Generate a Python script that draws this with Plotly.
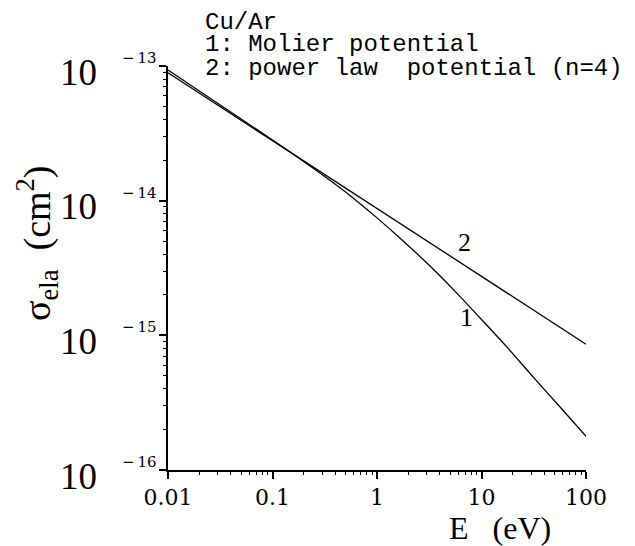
import plotly.graph_objects as go

# Energy (eV) and elastic cross sections (cm^2)
energy_molier = [0.01, 0.0316, 0.1, 0.158, 0.316, 0.562, 1.0, 1.78, 3.16, 5.62, 10.0, 17.8, 31.6, 56.2, 100.0]
sigma_molier = [9.33e-14, 5.13e-14, 2.82e-14, 2.21e-14, 1.51e-14, 1.08e-14, 7.45e-15, 5.02e-15,
                3.31e-15, 2.11e-15, 1.31e-15, 8.07e-16, 4.85e-16, 2.95e-16, 1.78e-16]
energy_power = [0.01, 0.1, 1.0, 10.0, 100.0]
sigma_power = [8.91e-14, 2.79e-14, 8.75e-15, 2.74e-15, 8.59e-16]

x_ticks = [0.01, 0.1, 1, 10, 100]
x_ticktext = ["0.01", "0.1", "1", "10", "100"]
y_exponents = [-13, -14, -15, -16]
minor_digits = [2, 3, 4, 5, 6, 7, 8, 9]

header_lines = ["Cu/Ar", "1: Molier potential", "2: power law\u00a0 potential (n=4)"]
curve_labels = ["1", "2"]

SERIF = "DejaVu Serif"
LSERIF = "Liberation Serif"
MONO = "Liberation Mono"

x_minor = [d * v for v in x_ticks[:-1] for d in minor_digits]
y_minor = [d * 10.0 ** e for e in y_exponents[1:] for d in minor_digits]

fig = go.Figure()
fig.add_trace(go.Scatter(x=energy_molier, y=sigma_molier, mode="lines",
                         line=dict(color="black", width=1.3, shape="spline"), showlegend=False))
fig.add_trace(go.Scatter(x=energy_power, y=sigma_power, mode="lines",
                         line=dict(color="black", width=1.3), showlegend=False))
# invisible copy on the overlaid axes so that their minor ticks get drawn
fig.add_trace(go.Scatter(x=energy_power, y=sigma_power, mode="lines", xaxis="x2", yaxis="y2",
                         line=dict(color="rgba(0,0,0,0)", width=0), opacity=0,
                         hoverinfo="skip", showlegend=False))

# the page body has an 8px margin, so the figure starts at (8, 8)
OFF = 8
W, H = 635 - OFF, 546 - OFF
L, R, T, B = 168, 586, 66, 470  # plot area in window pixels
pw, ph = R - L, B - T

def px(xp):
    return (xp - L) / pw

def py(yp):
    return (B - yp) / ph

annotations = []
# y tick labels: "10" with superscript exponent
for e in y_exponents:
    annotations.append(dict(x=px(99), y=e, xref="paper", yref="y", text="10",
                            showarrow=False, xanchor="right", yanchor="middle", yshift=-6,
                            font=dict(family=LSERIF, size=37, color="black")))
    annotations.append(dict(x=px(159), y=e, xref="paper", yref="y", text="\u2212\u2009" + str(-e),
                            showarrow=False, xanchor="right", yanchor="middle", yshift=8,
                            font=dict(family=SERIF, size=15, color="black")))

# header text
header_y = [23, 45, 68]
for txt, yy in zip(header_lines, header_y):
    annotations.append(dict(x=px(203), y=py(yy), xref="paper", yref="paper", text=txt,
                            showarrow=False, xanchor="left", yanchor="middle",
                            font=dict(family=MONO, size=24, color="black")))

# curve labels
annotations.append(dict(x=0.852, y=-14.87, xref="x", yref="y", text=curve_labels[0], showarrow=False,
                        font=dict(family=LSERIF, size=26, color="black")))
annotations.append(dict(x=0.842, y=-14.31, xref="x", yref="y", text=curve_labels[1], showarrow=False,
                        font=dict(family=LSERIF, size=26, color="black")))

# axis titles
annotations.append(dict(x=px(500), y=py(528), xref="paper", yref="paper", text="E\u2002 (eV)",
                        showarrow=False, xanchor="center", yanchor="middle",
                        font=dict(family=LSERIF, size=32, color="black")))
annotations.append(dict(x=px(37), y=py(243), xref="paper", yref="paper",
                        text="\u03c3<sub>ela</sub>\u00a0\u00a0(cm<sup>2</sup>)", textangle=-90,
                        showarrow=False, xanchor="center", yanchor="middle",
                        font=dict(family=LSERIF, size=38, color="black")))

axis_common = dict(type="log", showgrid=False, zeroline=False)

fig.update_layout(
    width=W, height=H,
    margin=dict(l=L - OFF, r=W - (R - OFF), t=T - OFF, b=H - (B - OFF), pad=0),
    paper_bgcolor="white", plot_bgcolor="white",
    annotations=annotations,
    xaxis=dict(**axis_common, range=[-2, 2], tickmode="array", tickvals=x_ticks, ticktext=x_ticktext,
               showline=True, linecolor="black", linewidth=1.6,
               ticks="outside", ticklen=7, tickwidth=1.5, tickcolor="black",
               tickfont=dict(family=SERIF, size=22, color="black")),
    xaxis2=dict(**axis_common, range=[-2, 2], overlaying="x", anchor="y", side="bottom",
                tickmode="array", tickvals=x_minor, showticklabels=False, showline=False,
                ticks="outside", ticklen=4, tickwidth=1.2, tickcolor="black"),
    yaxis=dict(**axis_common, range=[-16, -13], tickmode="array", tickvals=[10.0 ** e for e in y_exponents],
               showticklabels=False, showline=True, linecolor="black", linewidth=1.6,
               ticks="outside", ticklen=7, tickwidth=1.5, tickcolor="black"),
    yaxis2=dict(**axis_common, range=[-16, -13], overlaying="y", anchor="x", side="left",
                tickmode="array", tickvals=y_minor, showticklabels=False, showline=False,
                ticks="outside", ticklen=4, tickwidth=1.2, tickcolor="black"),
)

fig.write_html("out.html")
